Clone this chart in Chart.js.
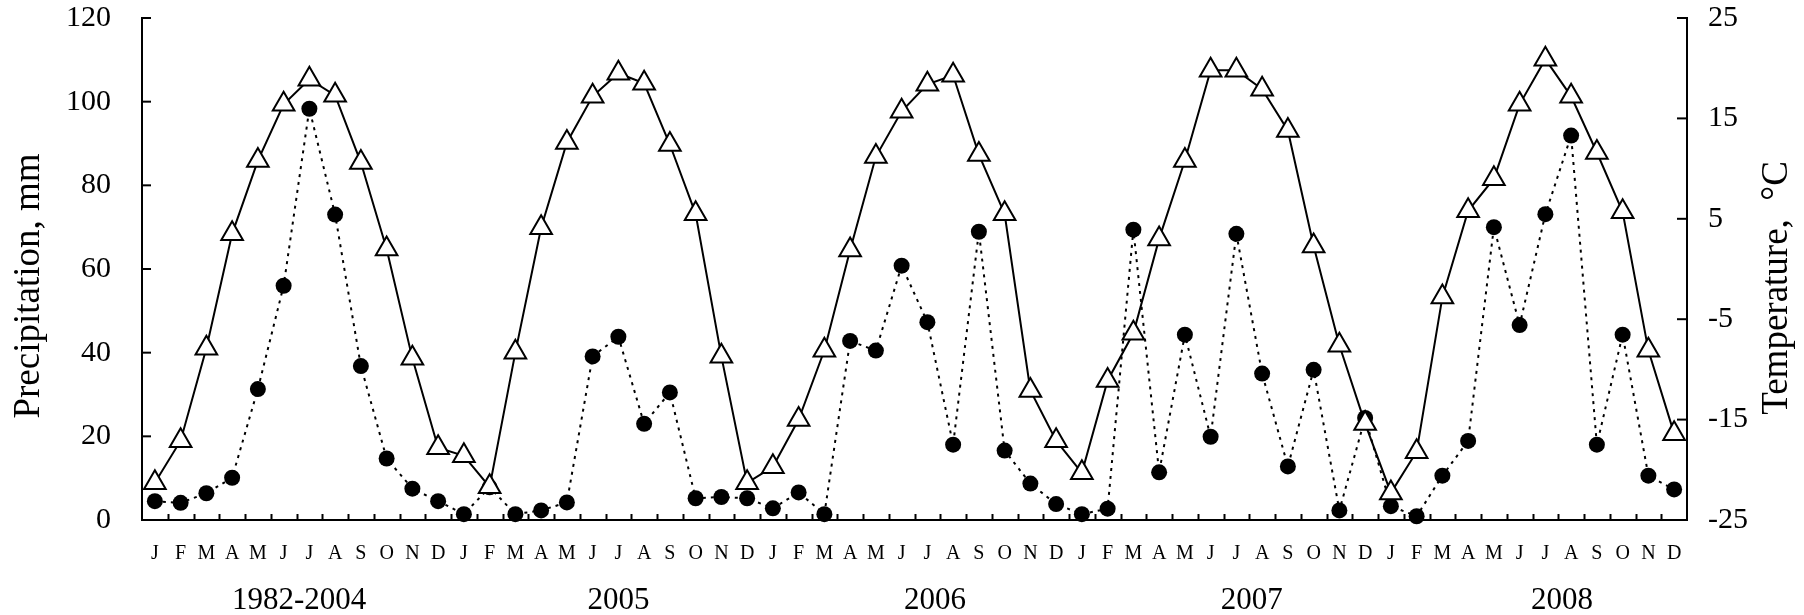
<!DOCTYPE html>
<html><head><meta charset="utf-8">
<script src="https://cdn.jsdelivr.net/npm/chart.js@4.4.0/dist/chart.umd.min.js"></script>
<style>html,body{margin:0;padding:0;background:#fff;}#wrap{width:1804px;height:615px;}</style>
</head><body><div id="wrap"><canvas id="c" width="1804" height="615"></canvas></div>
<script>
const months = ['J','F','M','A','M','J','J','A','S','O','N','D'];
const periods = ['1982-2004','2005','2006','2007','2008'];
const leftTicks = [0,20,40,60,80,100,120];
const rightTicks = [-25,-15,-5,5,15,25];

// Precipitation, mm (dots)
const precip1982_2004 = [4.5, 4.1, 6.4, 10.1, 31.3, 56.0, 98.3, 73.0, 36.8, 14.7, 7.5, 4.5];
const precip2005 = [1.4, 7.8, 1.4, 2.3, 4.2, 39.1, 43.8, 23.0, 30.5, 5.2, 5.5, 5.2];
const precip2006 = [2.8, 6.6, 1.4, 42.8, 40.5, 60.8, 47.3, 18.0, 68.9, 16.6, 8.7, 3.8];
const precip2007 = [1.4, 2.7, 69.4, 11.4, 44.3, 19.9, 68.4, 35.0, 12.8, 35.9, 2.3, 24.4];
const precip2008 = [3.3, 0.9, 10.6, 18.9, 70.0, 46.6, 73.1, 91.9, 18.0, 44.3, 10.6, 7.3];

// Temperature, °C (triangles)
const temp1982_2004 = [-21.3, -17.1, -7.9, 3.5, 10.8, 16.4, 18.9, 17.3, 10.6, 2.0, -8.9, -17.8];
const temp2005 = [-18.6, -21.7, -8.3, 4.1, 12.6, 17.2, 19.5, 18.5, 12.4, 5.5, -8.7, -21.3];
const temp2006 = [-19.7, -15.0, -8.1, 1.9, 11.2, 15.7, 18.4, 19.3, 11.4, 5.5, -12.1, -17.1];
const temp2007 = [-20.3, -11.1, -6.4, 3.0, 10.8, 19.8, 19.8, 17.9, 13.8, 2.3, -7.6, -15.4];
const temp2008 = [-22.3, -18.2, -2.8, 5.8, 9.0, 16.4, 20.9, 17.2, 11.6, 5.7, -8.1, -16.4];

const labels = periods.flatMap(() => months);
const precipitation = [].concat(precip1982_2004, precip2005, precip2006, precip2007, precip2008);
const temperature = [].concat(temp1982_2004, temp2005, temp2006, temp2007, temp2008);

const FONT = '"Liberation Serif", "Times New Roman", serif';
const groupShift = [0.1, 0.5, 0.8, 1.1, 1.15];

function noPad(s) { s.paddingTop = 0; s.paddingBottom = 0; }

const decor = {
  id: 'decor',
  afterDraw(chart) {
    const ctx = chart.ctx, a = chart.chartArea;
    const x = chart.scales.x, yl = chart.scales.y, yr = chart.scales.y1;
    ctx.save();
    ctx.strokeStyle = '#000';
    ctx.lineWidth = 2;
    for (let i = 1; i < labels.length; i++) {
      const px = Math.round(x.getPixelForValue(i - 0.5)) + 0.5;
      ctx.beginPath(); ctx.moveTo(px, a.bottom); ctx.lineTo(px, a.bottom - 6); ctx.stroke();
    }
    yl.ticks.forEach(t => {
      const py = yl.getPixelForValue(t.value);
      ctx.beginPath(); ctx.moveTo(a.left, py); ctx.lineTo(a.left + 9, py); ctx.stroke();
    });
    yr.ticks.forEach(t => {
      const py = yr.getPixelForValue(t.value);
      ctx.beginPath(); ctx.moveTo(a.right, py); ctx.lineTo(a.right - 10, py); ctx.stroke();
    });
    ctx.fillStyle = '#000';
    ctx.textAlign = 'center';
    ctx.textBaseline = 'middle';
    ctx.font = '31px ' + FONT;
    periods.forEach((p, k) => {
      const px = x.getPixelForValue(k * 12 + 5.5 + groupShift[k]);
      ctx.fillText(p, px, 601);
    });
    ctx.font = '37px ' + FONT;
    ctx.save();
    ctx.translate(29, 286);
    ctx.rotate(-Math.PI / 2);
    ctx.fillText('Precipitation, mm', 0, 0);
    ctx.restore();
    ctx.save();
    ctx.translate(1777, 288);
    ctx.rotate(-Math.PI / 2);
    ctx.fillText('Temperature,  \u00B0C', 0, 0);
    ctx.restore();
    ctx.restore();
  }
};

new Chart(document.getElementById('c'), {
  type: 'line',
  data: {
    labels: labels,
    datasets: [
      {
        label: 'Temperature',
        data: temperature,
        yAxisID: 'y1',
        borderColor: '#000',
        borderWidth: 2,
        pointStyle: 'triangle',
        pointRadius: 12.5,
        pointBackgroundColor: '#fff',
        pointBorderColor: '#000',
        pointBorderWidth: 2,
        tension: 0,
        clip: false
      },
      {
        label: 'Precipitation',
        data: precipitation,
        yAxisID: 'y',
        borderColor: '#000',
        borderWidth: 2,
        borderDash: [3, 5],
        pointStyle: 'circle',
        pointRadius: 8,
        pointBackgroundColor: '#000',
        pointBorderColor: '#000',
        pointBorderWidth: 0,
        tension: 0,
        clip: false
      }
    ]
  },
  options: {
    responsive: false,
    animation: false,
    devicePixelRatio: 1,
    layout: { padding: { top: 18, left: 0, right: 0, bottom: 0 } },
    plugins: { legend: { display: false }, tooltip: { enabled: false } },
    scales: {
      x: {
        type: 'category',
        offset: true,
        grid: { display: false, drawTicks: false },
        border: { display: true, color: '#000', width: 2 },
        ticks: { color: '#000', font: { family: FONT, size: 20 }, padding: 22, autoSkip: false, maxRotation: 0 },
        afterFit(s) { s.height = 95; s.paddingLeft = 0; s.paddingRight = 0; }
      },
      y: {
        position: 'left',
        min: 0, max: 120,
        afterBuildTicks(s) { s.ticks = leftTicks.map(v => ({ value: v })); },
        grid: { display: false, drawTicks: false },
        border: { display: true, color: '#000', width: 2 },
        ticks: { color: '#000', font: { family: FONT, size: 30 }, padding: 31 },
        afterFit(s) { s.width = 142; noPad(s); }
      },
      y1: {
        position: 'right',
        min: -25, max: 25,
        afterBuildTicks(s) { s.ticks = rightTicks.map(v => ({ value: v })); },
        grid: { display: false, drawTicks: false },
        border: { display: true, color: '#000', width: 2 },
        ticks: { color: '#000', font: { family: FONT, size: 30 }, padding: 21 },
        afterFit(s) { s.width = 117; noPad(s); }
      }
    }
  },
  plugins: [decor]
});
</script>
</body></html>
